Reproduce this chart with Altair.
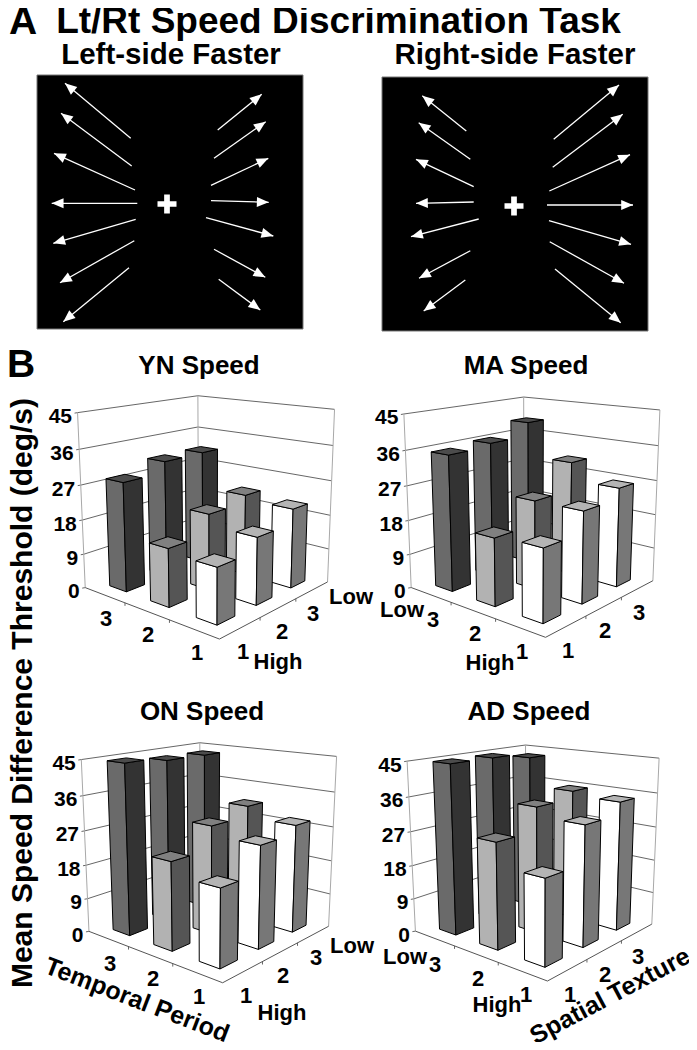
import numpy as np
import pandas as pd
import altair as alt

# ---------- data ----------
T_LEVELS = [3, 2, 1]          # temporal period, back row first
S_LEVELS = [1, 2, 3]          # spatial texture
YN = [[28.3, 31.1, 31.2], [14.8, 19.9, 21.8], [13.8, 17.1, 20.8]]
MA = [[35.3, 36.1, 39.7], [17.3, 23.3, 30.6], [18.1, 23.4, 26.1]]
ON = [[44.5, 43.5, 43.3], [22.7, 28.6, 31.2], [19.5, 26.3, 28.4]]
AD = [[44.7, 44.6, 43.1], [27.5, 33.6, 35.5], [21.7, 31.3, 34.5]]
Y_TICKS = [0, 9, 18, 27, 36, 45]

LEFT_TAILS_X = [130.7, 131.7, 135, 137.3, 135.7, 134.3, 129]
LEFT_TAILS_Y = [138.3, 166, 190, 203.3, 219.3, 240.7, 267.7]
LEFT_TIPS_X = [65, 61, 54, 51.7, 53.3, 60, 63.3]
LEFT_TIPS_Y = [83.3, 113.3, 153.3, 203.3, 243.3, 282.7, 321.7]
LEFT2_TAILS_X = [217.7, 214, 211, 211, 206, 214, 218.7]
LEFT2_TAILS_Y = [130, 158.3, 185.3, 200.7, 217.7, 249.3, 279.3]
LEFT2_TIPS_X = [261.7, 265.7, 268.3, 268.7, 273.3, 265.3, 260.3]
LEFT2_TIPS_Y = [94.3, 121.7, 158.3, 202.3, 236, 277.3, 310]

RIGHT_TAILS_X = [466.3, 470.3, 473.7, 473.7, 478.7, 470.3, 465.3]
RIGHT_TAILS_Y = [131, 159.3, 186.7, 202, 219, 250.7, 280]
RIGHT_TIPS_X = [422.3, 418.7, 416, 416, 411, 419, 423.7]
RIGHT_TIPS_Y = [95.7, 122.7, 159.3, 203.3, 236.7, 278.3, 311]
RIGHT2_TAILS_X = [553.7, 552.7, 549.3, 547, 549, 549.7, 555]
RIGHT2_TAILS_Y = [139.3, 167.3, 191, 205, 220.7, 241.7, 269]
RIGHT2_TIPS_X = [619, 622.7, 630, 633, 631, 624, 620.7]
RIGHT2_TIPS_Y = [85, 114.3, 154.7, 205, 244.3, 283.3, 322.7]

# floor and wall corners of every 3-D box as seen in the picture
BOXES = {
    "YN": dict(L0=(85, 587.3), L1=(77.3, 413), F0=(220, 639), R0=(327.3, 582.3), R1=(334.3, 409), B1=(198.3, 395.7)),
    "MA": dict(L0=(411, 587.3), L1=(403.7, 414.3), F0=(546, 637.3), R0=(652.7, 581), R1=(659.7, 409.7), B1=(524, 397)),
    "ON": dict(L0=(88.7, 931), L1=(81, 760), F0=(223.3, 982.7), R0=(328.3, 926.7), R1=(336.3, 756), B1=(200.3, 742.7)),
    "AD": dict(L0=(415.3, 931), L1=(407, 761.3), F0=(547.7, 981), R0=(651.7, 924.3), R1=(659, 758), B1=(525.7, 745)),
}
CORNER_3D = dict(L0=(0, 0, 0), L1=(0, 0, 1), F0=(1, 0, 0), R0=(1, 1, 0), R1=(1, 1, 1), B1=(0, 1, 1))
VALUES = {"YN": YN, "MA": MA, "ON": ON, "AD": AD}

BAR_HALF_U = 0.07
BAR_HALF_V = 0.073
BAR_SHIFT_U = -0.012
BAR_SHIFT_V = 0.02
FACES = {3: ("#6a6a6a", "#333333", "#4c4c4c"), 2: ("#b2b2b2", "#555555", "#808080"), 1: ("#ffffff", "#777777", "#b4b4b4")}


def camera(box):
    rows, rhs = [], []
    for k, (px, py) in box.items():
        u, v, w = CORNER_3D[k]
        rows.append([u, v, w, 1, 0, 0, 0, 0, -px * u, -px * v, -px * w]); rhs.append(px)
        rows.append([0, 0, 0, 0, u, v, w, 1, -py * u, -py * v, -py * w]); rhs.append(py)
    sol = np.linalg.lstsq(np.array(rows, float), np.array(rhs, float), rcond=None)[0]
    return np.append(sol, 1).reshape(3, 4)


def project(P, u, v, w):
    q = P @ np.array([u, v, w, 1.0])
    return q[0] / q[2], q[1] / q[2]


polys, lines, right_labels = [], [], []
pid = 0


def add_poly(P, pts, fill):
    global pid
    pid += 1
    for n, p in enumerate(pts + pts[:1]):
        x, y = project(P, *p)
        polys.append(dict(id=pid, seq=n, x=x, y=y, fill=fill))


def add_line(a, b, stroke, sw=1.0):
    global pid
    pid += 1
    lines.append(dict(id=pid, seq=0, x=a[0], y=a[1], stroke=stroke, sw=sw))
    lines.append(dict(id=pid, seq=1, x=b[0], y=b[1], stroke=stroke, sw=sw))


for name, box in BOXES.items():
    P = camera(box)
    pj = lambda u, v, w: project(P, u, v, w)
    for t in Y_TICKS:
        w = t / 45
        if t:
            add_line(pj(0, 0, w), pj(0, 1, w), "#555555", 0.9)
            add_line(pj(0, 1, w), pj(1, 1, w), "#555555", 0.9)
        xl, yl = pj(0, 0, w)
        add_line((xl - 3, yl + 0.5), (xl, yl), "#555555", 0.9)
        right_labels.append(dict(text=str(t), x=xl - 5.5, y=yl + 4.5))
    for a, b in [((0, 0, 0), (0, 0, 1)), ((0, 1, 0), (0, 1, 1)), ((1, 1, 0), (1, 1, 1))]:
        add_line(pj(*a), pj(*b), "#a8a8a8", 1.0)
    add_line(pj(0, 0, 0), pj(1, 0, 0), "#555555", 1.0)
    add_line(pj(1, 0, 0), pj(1, 1, 0), "#555555", 1.0)
    for f in (1 / 3, 2 / 3):
        x0, y0 = pj(f, 0, 0)
        add_line((x0, y0), (x0, y0 + 3), "#555555", 0.9)
        x0, y0 = pj(1, f, 0)
        add_line((x0, y0), (x0, y0 + 3), "#555555", 0.9)
    for i in range(3):
        for j in (2, 1, 0):
            val = VALUES[name][i][j] / 45
            uc, vc = (i + 0.5) / 3 + BAR_SHIFT_U, (j + 0.5) / 3 + BAR_SHIFT_V
            u0, u1 = uc - BAR_HALF_U, uc + BAR_HALF_U
            v0, v1 = vc - BAR_HALF_V, vc + BAR_HALF_V
            c_left, c_right, c_top = FACES[T_LEVELS[i]]
            add_poly(P, [(u0, v0, 0), (u1, v0, 0), (u1, v0, val), (u0, v0, val)], c_left)
            add_poly(P, [(u1, v0, 0), (u1, v1, 0), (u1, v1, val), (u1, v0, val)], c_right)
            add_poly(P, [(u0, v0, val), (u1, v0, val), (u1, v1, val), (u0, v1, val)], c_top)

arrows = []
for xs, ys, xe, ye in [(LEFT_TAILS_X, LEFT_TAILS_Y, LEFT_TIPS_X, LEFT_TIPS_Y),
                       (LEFT2_TAILS_X, LEFT2_TAILS_Y, LEFT2_TIPS_X, LEFT2_TIPS_Y),
                       (RIGHT_TAILS_X, RIGHT_TAILS_Y, RIGHT_TIPS_X, RIGHT_TIPS_Y),
                       (RIGHT2_TAILS_X, RIGHT2_TAILS_Y, RIGHT2_TIPS_X, RIGHT2_TIPS_Y)]:
    for a, b, c, d in zip(xs, ys, xe, ye):
        add_line((a, b), (c, d), "#ffffff", 1.3)
        arrows.append(dict(x=c, y=d, angle=float(np.degrees(np.arctan2(c - a, b - d))) % 360))

CENTER_TEXT = [
    ("A", 23, 22, 39, 0), ("Lt/Rt Speed Discrimination Task", 338.5, 22, 37, 0),
    ("Left-side Faster", 171, 55, 29.5, 0), ("Right-side Faster", 515, 55, 29.5, 0),
    ("B", 21, 365, 39, 0), ("YN Speed", 199, 366, 26, 0), ("MA Speed", 526, 366, 26, 0),
    ("ON Speed", 202, 712, 26, 0), ("AD Speed", 529, 712, 26, 0),
    ("Mean Speed Difference Threshold (deg/s)", 23, 693, 30, 270),
    ("Temporal Period", 137, 1000, 25, 21), ("Spatial Texture", 610, 996, 25, 332),
    ("3", 106, 619, 22, 0), ("2", 148, 635, 22, 0), ("1", 197, 653, 22, 0),
    ("1", 243, 652, 22, 0), ("2", 282, 632, 22, 0), ("3", 313, 614, 22, 0),
    ("High", 278, 662, 22, 0), ("Low", 351, 597, 22, 0),
    ("Low", 402, 610, 22, 0), ("3", 433, 620, 22, 0), ("2", 475, 634, 22, 0), ("1", 522, 652, 22, 0),
    ("High", 490, 663, 22, 0), ("1", 568, 651, 22, 0), ("2", 605, 631, 22, 0), ("3", 639, 613, 22, 0),
    ("3", 110, 964, 22, 0), ("2", 153, 979, 22, 0), ("1", 199, 997, 22, 0),
    ("1", 246, 996, 22, 0), ("2", 283, 976, 22, 0), ("3", 316, 958, 22, 0),
    ("High", 282, 1013, 22, 0), ("Low", 352, 946, 22, 0),
    ("Low", 405, 957, 22, 0), ("3", 435, 965, 22, 0), ("2", 478, 979, 22, 0), ("1", 526, 995, 22, 0),
    ("High", 497, 1005, 22, 0), ("1", 570, 995, 22, 0), ("2", 605, 975, 22, 0), ("3", 638, 957, 22, 0),
]
center_df = pd.DataFrame(CENTER_TEXT, columns=["text", "x", "y", "size", "angle"])
right_df = pd.DataFrame(right_labels)
poly_df = pd.DataFrame(polys)
line_df = pd.DataFrame(lines)
arrow_df = pd.DataFrame(arrows)
panels_df = pd.DataFrame([dict(x=37, x2=303, y=75, y2=329), dict(x=382, x2=648, y=77, y2=331)])
cross_df = pd.DataFrame([dict(x=167, y=204), dict(x=514, y=206)])

W, H = 681, 1034
X = alt.X("x:Q", axis=None, scale=alt.Scale(domain=[8, 8 + W], nice=False, zero=False))
Y = alt.Y("y:Q", axis=None, scale=alt.Scale(domain=[8 + H, 8], nice=False, zero=False))
FONT = "Liberation Sans"
HEAD = "M0,0L-0.42,1L0.42,1Z"
PLUS = "M-1,-0.3H-0.3V-1H0.3V-0.3H1V0.3H0.3V1H-0.3V0.3H-1Z"

panel_layer = alt.Chart(panels_df).mark_rect(color="black", stroke="#777777", strokeWidth=1).encode(
    x=X, x2="x2:Q", y=Y, y2="y2:Q")
line_layer = alt.Chart(line_df).mark_line(clip=False).encode(
    x=X, y=Y, detail="id:N", order="seq:Q",
    stroke=alt.Stroke("stroke:N", scale=None), strokeWidth=alt.StrokeWidth("sw:Q", scale=None))
head_layer = alt.Chart(arrow_df).mark_point(shape=HEAD, filled=True, color="white", size=560, opacity=1).encode(
    x=X, y=Y, angle=alt.Angle("angle:Q", scale=None))
cross_layer = alt.Chart(cross_df).mark_point(shape=PLUS, filled=True, color="white", size=361, opacity=1).encode(x=X, y=Y)
poly_layer = alt.Chart(poly_df).mark_line(stroke="#000000", strokeWidth=1, strokeJoin="round").encode(
    x=X, y=Y, detail="id:N", order="seq:Q", fill=alt.Fill("fill:N", scale=None))
center_layer = alt.Chart(center_df).mark_text(font=FONT, fontWeight="bold", color="black", baseline="middle", align="center").encode(
    x=X, y=Y, text="text:N", size=alt.Size("size:Q", scale=None), angle=alt.Angle("angle:Q", scale=None))
right_layer = alt.Chart(right_df).mark_text(font=FONT, fontWeight="bold", color="black", baseline="middle", align="right", fontSize=21).encode(
    x=X, y=Y, text="text:N")

chart = alt.layer(panel_layer, line_layer, head_layer, cross_layer, poly_layer, center_layer, right_layer).properties(
    width=W, height=H, padding=0, background="white", autosize=alt.AutoSizeParams(type="none")).configure_view(stroke=None)
chart.save("out.html", embed_options={"renderer": "svg", "actions": False})
